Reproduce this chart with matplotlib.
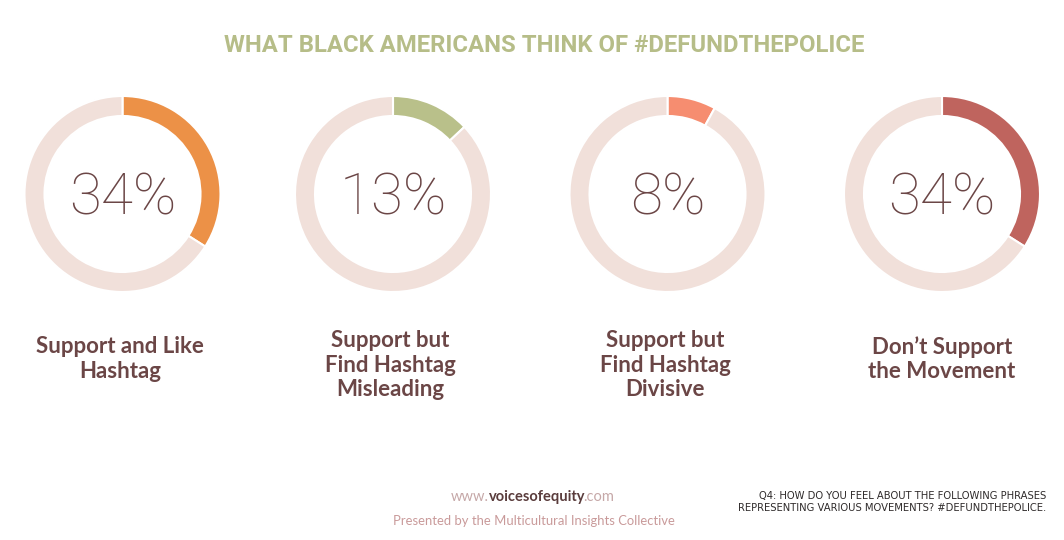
import matplotlib
matplotlib.use("Agg")
import matplotlib.pyplot as plt

W, H = 1064, 540

# ---- data ----
categories = ["Support and Like\nHashtag",
              "Support but\nFind Hashtag\nMisleading",
              "Support but\nFind Hashtag\nDivisive",
              "Don\u2019t Support\nthe Movement"]
values = [34, 13, 8, 34]
pct_labels = ["34%", "13%", "8%", "34%"]
seg_colors = ["#EC9147", "#B9C08A", "#F68D70", "#BF645E"]
track_color = "#F1E0DA"
text_color = "#6B4646"
title_text = "WHAT BLACK AMERICANS THINK OF #DEFUNDTHEPOLICE"
title_color = "#B6BD88"

fig = plt.figure(figsize=(W / 100, H / 100), dpi=100)
fig.patch.set_facecolor("white")

centers_x = [122.5, 393, 667.5, 942]
center_y = 194
R = 98
ring = 20

for i, (v, c) in enumerate(zip(values, seg_colors)):
    cx = centers_x[i]
    ax = fig.add_axes([(cx - R - 2) / W, (H - center_y - R - 2) / H,
                       (2 * R + 4) / W, (2 * R + 4) / H])
    ax.pie([v, 100 - v], startangle=90, counterclock=False,
           colors=[c, track_color], radius=R / (R + 2),
           wedgeprops=dict(width=ring / (R + 2), edgecolor="white", linewidth=1.5))
    ax.set_xlim(-1, 1)
    ax.set_ylim(-1, 1)
    ax.set_aspect("equal")
    ax.axis("off")
    ax.text(0, -0.05, pct_labels[i], ha="center", va="center",
            fontsize=42, color=text_color, family=["Roboto", "DejaVu Sans"],
            fontweight="light")

def fx(x):
    return x / W

def fy(y):
    return 1 - y / H

fig.text(fx(544), fy(45), title_text, ha="center", va="center",
         fontsize=17.2, fontweight="bold", color=title_color,
         family=["Roboto", "DejaVu Sans"])

label_x = [120, 390, 665, 942]
label_y = [359, 365, 365, 359]
for i, lab in enumerate(categories):
    fig.text(fx(label_x[i]), fy(label_y[i]), lab, ha="center", va="center",
             fontsize=16, fontweight="bold", color=text_color,
             family=["Lato", "DejaVu Sans"], linespacing=1.2)

# footer
fig.canvas.draw()
r = fig.canvas.get_renderer()
mid = fig.text(fx(537), fy(497), "voicesofequity", ha="center", va="center",
               fontsize=10.5, fontweight="bold", color="#5A3C3C",
               family=["Lato", "DejaVu Sans"])
bb = mid.get_window_extent(renderer=r)
fig.text(bb.x0 / W, fy(497), "www.", ha="right", va="center", fontsize=10.5,
         color="#C6A8A8", family=["Lato", "DejaVu Sans"])
fig.text((bb.x1 - 2) / W, fy(497), ".com", ha="left", va="center", fontsize=10.5,
         color="#C6A8A8", family=["Lato", "DejaVu Sans"])
fig.text(fx(534), fy(521), "Presented by the Multicultural Insights Collective",
         ha="center", va="center", fontsize=9.4, color="#C99A9A",
         family=["Lato", "DejaVu Sans"])
fig.text(fx(1046), fy(502),
         "Q4: HOW DO YOU FEEL ABOUT THE FOLLOWING PHRASES\nREPRESENTING VARIOUS MOVEMENTS? #DEFUNDTHEPOLICE.",
         ha="right", va="center", fontsize=7.2, color="#2E2A2A",
         family=["Liberation Sans Narrow", "DejaVu Sans"], linespacing=1.25,
         multialignment="right")

fig.savefig("out.png", dpi=100, facecolor="white")
